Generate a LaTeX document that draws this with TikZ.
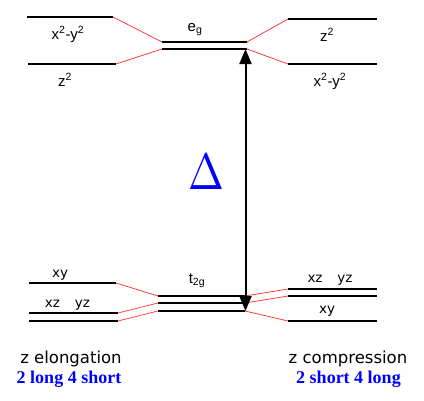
\documentclass[tikz,border=0pt]{standalone}
\usepackage{fontspec}
\setmainfont{Liberation Serif}
\newfontfamily\verd{DejaVu Sans}
\newfontfamily\helv{Liberation Sans}
\usetikzlibrary{arrows.meta}
\begin{document}
\begin{tikzpicture}[x=1pt,y=-1pt,
  level/.style={line width=1.8pt,black},
  link/.style={line width=0.7pt,red!85},
  orb/.style={font=\verd\fontsize{13.5}{13.5}\selectfont,anchor=base,inner sep=0pt},
  sym/.style={font=\helv\fontsize{15}{15}\selectfont,anchor=base,inner sep=0pt},
  captext/.style={font=\verd\fontsize{16.5}{16.5}\selectfont,anchor=base,inner sep=0pt},
  bl/.style={font=\bfseries\fontsize{18}{18}\selectfont,text=blue,anchor=base,inner sep=0pt},
  dbl/.style={line width=2pt,black,{Triangle[length=15pt,width=12pt]}-{Triangle[length=15pt,width=12pt]}}]
\path[use as bounding box] (0,0) rectangle (424,400);
% ---- eg block coordinates
\coordinate (LA1) at (27,17);  \coordinate (LA2) at (113,17);
\coordinate (LB1) at (28,64);  \coordinate (LB2) at (116,64);
\coordinate (EA1) at (162,42); \coordinate (EA2) at (247,42);
\coordinate (EB1) at (162,49); \coordinate (EB2) at (247,49);
\coordinate (RA1) at (288,19); \coordinate (RA2) at (377,19);
\coordinate (RB1) at (288,64); \coordinate (RB2) at (377,64);
% ---- t2g block coordinates
\coordinate (lA1) at (29,283);  \coordinate (lA2) at (116,283);
\coordinate (lB1) at (29,313);  \coordinate (lB2) at (118,313);
\coordinate (lC1) at (29,321);  \coordinate (lC2) at (118,321);
\coordinate (TA1) at (158,296); \coordinate (TA2) at (245,296);
\coordinate (TB1) at (158,303); \coordinate (TB2) at (245,303);
\coordinate (TC1) at (158,311); \coordinate (TC2) at (245,311);
\coordinate (rA1) at (288,289); \coordinate (rA2) at (377,289);
\coordinate (rB1) at (288,296); \coordinate (rB2) at (377,296);
\coordinate (rC1) at (288,321); \coordinate (rC2) at (377,321);
% levels
\foreach \a/\b in {LA1/LA2,LB1/LB2,EA1/EA2,EB1/EB2,RA1/RA2,RB1/RB2,
                   lA1/lA2,lB1/lB2,lC1/lC2,TA1/TA2,TB1/TB2,TC1/TC2,rA1/rA2,rB1/rB2,rC1/rC2}
  \draw[level] (\a) -- (\b);
% red correlation lines
\foreach \a/\b in {LA2/EA1,LB2/EB1,EA2/RA1,EB2/RB1,
                   lA2/TA1,lB2/TB1,lC2/TC1,TA2/rA1,TB2/rB1,TC2/rC1}
  \draw[link] (\a) -- (\b);
% Delta arrow
\coordinate (Dtop) at (245.5,49);
\coordinate (Dbot) at (245.5,311);
\draw[dbl] (Dtop) -- (Dbot);
\node[text=blue,inner sep=0pt] (delta) at (206,172) {\scalebox{4.3}[5.1]{$\Delta$}};
% labels
\node[sym] (l1) at (68,39) {x\textsuperscript{2}-y\textsuperscript{2}};
\node[sym] (l2) at (65,86) {z\textsuperscript{2}};
\node[sym] (eg) at (195,31) {e\textsubscript{g}};
\node[sym] (r1) at (327,41) {z\textsuperscript{2}};
\node[sym] (r2) at (330,86) {x\textsuperscript{2}-y\textsuperscript{2}};
\node[orb] (l3) at (60,277) {xy};
\node[orb] (l4) at (67.5,307) {xz\hspace{1.1em}yz};
\node[sym] (t2g) at (197,283) {t\textsubscript{2g}};
\node[orb] (r3) at (330,282) {xz\hspace{1.1em}yz};
\node[orb] (r4) at (327,313) {xy};
\node[captext] (c1) at (71,363) {z elongation};
\node[bl] (b1) at (69,383) {2 long 4 short};
\node[captext] (c2) at (348,363) {z compression};
\node[bl] (b2) at (348.5,383) {2 short 4 long};
\end{tikzpicture}
\end{document}
